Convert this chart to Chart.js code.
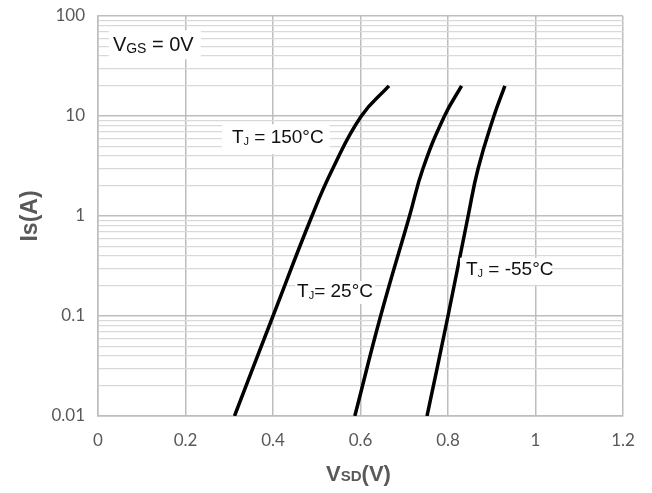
<!DOCTYPE html>
<html>
<head>
<meta charset="utf-8">
<script src="https://cdn.jsdelivr.net/npm/chart.js@4/dist/chart.umd.min.js"></script>
<style>
html,body{margin:0;padding:0;background:#fff;}
#wrap{width:652px;height:493px;}
</style>
</head>
<body>
<div id="wrap"><canvas id="c" width="652" height="493"></canvas></div>
<script>
// ---- data ----
const seriesNames = ['TJ = 150°C', 'TJ = 25°C', 'TJ = -55°C'];
const is_A   = [0.01, 0.1, 1, 3, 10, 20];
const vsd150 = [0.312, 0.400, 0.489, 0.537, 0.602, 0.665];
const vsd25  = [0.587, 0.646, 0.712, 0.743, 0.792, 0.831];
const vsdM55 = [0.752, 0.800, 0.846, 0.869, 0.905, 0.930];
const xTicks = [0, 0.2, 0.4, 0.6, 0.8, 1, 1.2];
const xTickLabels = ['0', '0.2', '0.4', '0.6', '0.8', '1', '1.2'];
const yMajorTicks = [0.01, 0.1, 1, 10, 100];
const yTickLabels = ['0.01', '0.1', '1', '10', '100'];
const minorMultipliers = [2, 3, 4, 5, 6, 7, 8, 9];

const pts = (xs) => xs.map((v, i) => ({x: v, y: is_A[i]}));

const GRID_MAJOR = '#bdbdbd';
const GRID_MINOR = '#d9d9d9';
const TXT = '#595959';

function isMajor(v) {
  return yMajorTicks.some(m => Math.abs(Math.log10(v) - Math.log10(m)) < 1e-6);
}

function drawSub(ctx, x, y, parts) {
  let cx = x;
  parts.forEach(p => {
    ctx.font = p[1] + 'px "Liberation Sans", Arial, sans-serif';
    ctx.fillText(p[0], cx, y + (p[2] || 0));
    cx += ctx.measureText(p[0]).width;
  });
  return cx;
}

const labelPlugin = {
  id: 'labels',
  afterDatasetsDraw(chart) {
    const ctx = chart.ctx;
    const xs = chart.scales.x, ys = chart.scales.y;
    ctx.save();
    ctx.textBaseline = 'middle';
    ctx.textAlign = 'left';
    const items = [
      {v: 0.034, i: 51,  box: [-4, -15, 92, 29], parts: [['V',20,0],['GS',14,4],[' = 0V',20,0]]},
      {v: 0.306, i: 6.0, box: [-10, -14, 108, 30], parts: [['T',19,0],['J',11,4],[' = 150°C',19,0]]},
      {v: 0.455, i: 0.174, box: [-2, -11, 80, 23], parts: [['T',19,0],['J',11,4],['= 25°C',19,0]]},
      {v: 0.841, i: 0.29, box: [-6, -12, 92, 27], parts: [['T',19,0],['J',11,4],[' = -55°C',19,0]]}
    ];
    items.forEach(it => {
      const px = xs.getPixelForValue(it.v), py = ys.getPixelForValue(it.i);
      ctx.fillStyle = '#ffffff';
      ctx.fillRect(px + it.box[0], py + it.box[1], it.box[2], it.box[3]);
      ctx.fillStyle = '#111111';
      drawSub(ctx, px, py, it.parts);
    });
    ctx.restore();
  },
  afterDraw(chart) {
    const ctx = chart.ctx;
    const a = chart.chartArea;
    ctx.save();
    ctx.fillStyle = TXT;
    ctx.textBaseline = 'alphabetic';
    const big = 'bold 22px "Liberation Sans", Arial, sans-serif';
    const small = 'bold 15px "Liberation Sans", Arial, sans-serif';
    ctx.font = big; const w1 = ctx.measureText('V').width; const w3 = ctx.measureText('(V)').width;
    ctx.font = small; const w2 = ctx.measureText('SD').width;
    const total = w1 + w2 + w3;
    const cx = (a.left + a.right) / 2 - 2;
    let x = cx - total / 2;
    const y = 481;
    ctx.font = big; ctx.fillText('V', x, y); x += w1;
    ctx.font = small; ctx.fillText('SD', x, y); x += w2;
    ctx.font = big; ctx.fillText('(V)', x, y);
    ctx.restore();
  }
};

const lineStyle = {borderColor: '#000', borderWidth: 3.5, pointRadius: 0, fill: false, tension: 0.45, borderCapStyle: 'butt'};

new Chart(document.getElementById('c'), {
  type: 'line',
  data: {
    datasets: [
      Object.assign({label: seriesNames[0], data: pts(vsd150)}, lineStyle),
      Object.assign({label: seriesNames[1], data: pts(vsd25)}, lineStyle),
      Object.assign({label: seriesNames[2], data: pts(vsdM55)}, lineStyle)
    ]
  },
  options: {
    responsive: false,
    animation: false,
    devicePixelRatio: 1,
    layout: {padding: {left: 0, top: 16, right: 29, bottom: 0}},
    plugins: {legend: {display: false}, tooltip: {enabled: false}},
    scales: {
      x: {
        type: 'linear',
        min: 0, max: 1.2,
        afterBuildTicks(s) { s.ticks = xTicks.map(v => ({value: v})); },
        afterFit(s) { s.height = 77; s.paddingLeft = 0; s.paddingRight = 0; },
        grid: {color: GRID_MAJOR, lineWidth: 1.5, drawTicks: false},
        border: {color: GRID_MAJOR, width: 1.5},
        ticks: {
          padding: 14,
          color: TXT,
          font: {family: 'Lato, "Liberation Sans", sans-serif', size: 17},
          callback: (v) => { const i = xTicks.findIndex(t => Math.abs(t - v) < 1e-9); return i >= 0 ? xTickLabels[i] : ''; }
        }
      },
      y: {
        type: 'logarithmic',
        min: 0.01, max: 100,
        afterBuildTicks(s) {
          const t = [];
          yMajorTicks.forEach((m, k) => {
            t.push({value: m, major: true});
            if (k < yMajorTicks.length - 1) minorMultipliers.forEach(f => t.push({value: m * f}));
          });
          s.ticks = t;
        },
        afterFit(s) { s.width = 98; s.paddingTop = 0; s.paddingBottom = 0; },
        grid: {
          drawTicks: false,
          color: (c) => isMajor(c.tick.value) ? GRID_MAJOR : GRID_MINOR,
          lineWidth: (c) => isMajor(c.tick.value) ? 1.5 : 1.2
        },
        border: {color: GRID_MAJOR, width: 1.5},
        ticks: {
          autoSkip: false,
          padding: 13,
          color: TXT,
          font: {family: 'Lato, "Liberation Sans", sans-serif', size: 17},
          callback: (v) => { const i = yMajorTicks.findIndex(m => Math.abs(Math.log10(m) - Math.log10(v)) < 1e-6); return i >= 0 ? yTickLabels[i] : ''; }
        },
        title: {
          display: true,
          text: 'Is(A)',
          color: TXT,
          font: {family: '"Liberation Sans", Arial, sans-serif', size: 23, weight: 'bold'},
          padding: {top: 17, bottom: 0}
        }
      }
    }
  },
  plugins: [labelPlugin]
});
</script>
</body>
</html>
